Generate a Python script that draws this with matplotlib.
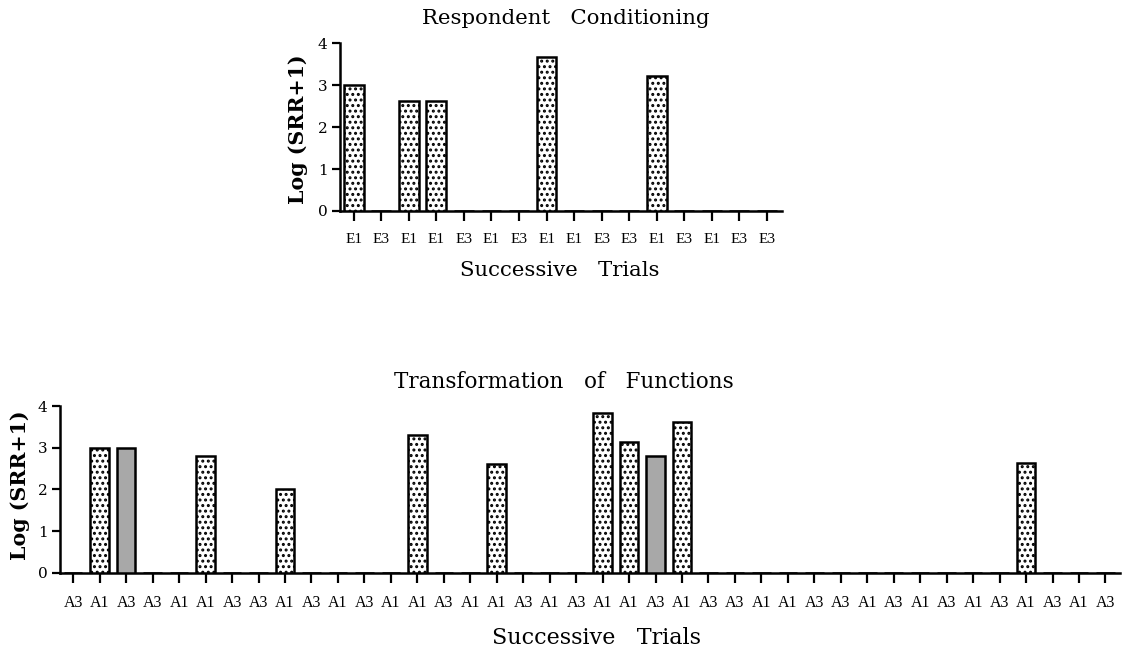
import matplotlib
matplotlib.use("Agg")
import matplotlib.pyplot as plt

# respondent conditioning trials
top_labels = ['E1', 'E3', 'E1', 'E1', 'E3', 'E1', 'E3', 'E1',
              'E1', 'E3', 'E3', 'E1', 'E3', 'E1', 'E3', 'E3']
top_values = [3.0, 0, 2.62, 2.62, 0, 0, 0, 3.68,
              0, 0, 0, 3.22, 0, 0, 0, 0]

# transformation of functions trials
bottom_labels = ['A3', 'A1', 'A3', 'A3', 'A1', 'A1', 'A3', 'A3', 'A1', 'A3',
                 'A1', 'A3', 'A1', 'A1', 'A3', 'A1', 'A1', 'A3', 'A1', 'A3',
                 'A1', 'A1', 'A3', 'A1', 'A3', 'A3', 'A1', 'A1', 'A3', 'A3',
                 'A1', 'A3', 'A1', 'A3', 'A1', 'A3', 'A1', 'A3', 'A1', 'A3']
bottom_values = [0, 3.0, 3.0, 0, 0, 2.8, 0, 0, 2.0, 0,
                 0, 0, 0, 3.3, 0, 0, 2.62, 0, 0, 0,
                 3.84, 3.13, 2.81, 3.61, 0, 0, 0, 0, 0, 0,
                 0, 0, 0, 0, 0, 0, 2.64, 0, 0, 0]

plt.rcParams['hatch.linewidth'] = 1.4

# bar look per stimulus
styles = {
    'E1': dict(facecolor='white', hatch='...'),
    'E3': dict(facecolor='white', hatch='...'),
    'A1': dict(facecolor='white', hatch='...'),
    'A3': dict(facecolor='#a8a8a8', hatch=None),
}

SERIF = 'DejaVu Serif'
TICKFONT = 'Liberation Serif'


def draw_panel(ax, labels, values, width, tick_size):
    x = list(range(len(labels)))
    for xi, lab, val in zip(x, labels, values):
        st = styles[lab]
        ax.bar(xi, val, width=width, facecolor=st['facecolor'], hatch=st['hatch'],
               edgecolor='black', linewidth=1.8, zorder=3)
    ax.set_xlim(-0.5, len(labels) - 0.45)
    ax.set_ylim(0, 4)
    ax.set_yticks([0, 1, 2, 3, 4])
    ax.set_xticks(x)
    ax.set_xticklabels(labels, fontfamily=TICKFONT, fontsize=tick_size)
    for t in ax.get_yticklabels():
        t.set_fontfamily(SERIF)
        t.set_fontsize(11)
    ax.tick_params(axis='x', length=7, width=1.6, pad=9)
    ax.tick_params(axis='y', length=6, width=1.6, pad=3)
    ax.spines['top'].set_visible(False)
    ax.spines['right'].set_visible(False)
    ax.spines['left'].set_linewidth(1.8)
    ax.spines['bottom'].set_linewidth(1.8)


fig = plt.figure(figsize=(11.23, 6.52), dpi=100)
W, H = 1123.0, 652.0

ax1 = fig.add_axes([340 / W, 1 - 211 / H, 442 / W, (211 - 43.3) / H])
draw_panel(ax1, top_labels, top_values, 0.72, 11)

ax2 = fig.add_axes([60 / W, 1 - 572.7 / H, 1060 / W, (572.7 - 406) / H])
draw_panel(ax2, bottom_labels, bottom_values, 0.7, 11.5)

fig.text(566 / W, 1 - 18 / H, 'Respondent   Conditioning', ha='center', va='center',
         fontfamily=SERIF, fontsize=15.3)
fig.text(560 / W, 1 - 270 / H, 'Successive   Trials', ha='center', va='center',
         fontfamily=SERIF, fontsize=15.3)
fig.text(298 / W, 1 - 129 / H, 'Log (SRR+1)', ha='center', va='center', rotation=90,
         fontfamily=SERIF, fontweight='bold', fontsize=14.8)

fig.text(564 / W, 1 - 382 / H, 'Transformation   of   Functions', ha='center', va='center',
         fontfamily=SERIF, fontsize=15.5)
fig.text(597 / W, 1 - 638 / H, 'Successive   Trials', ha='center', va='center',
         fontfamily=SERIF, fontsize=16)
fig.text(20 / W, 1 - 485 / H, 'Log (SRR+1)', ha='center', va='center', rotation=90,
         fontfamily=SERIF, fontweight='bold', fontsize=14.8)

fig.savefig('out.png', dpi=100)
